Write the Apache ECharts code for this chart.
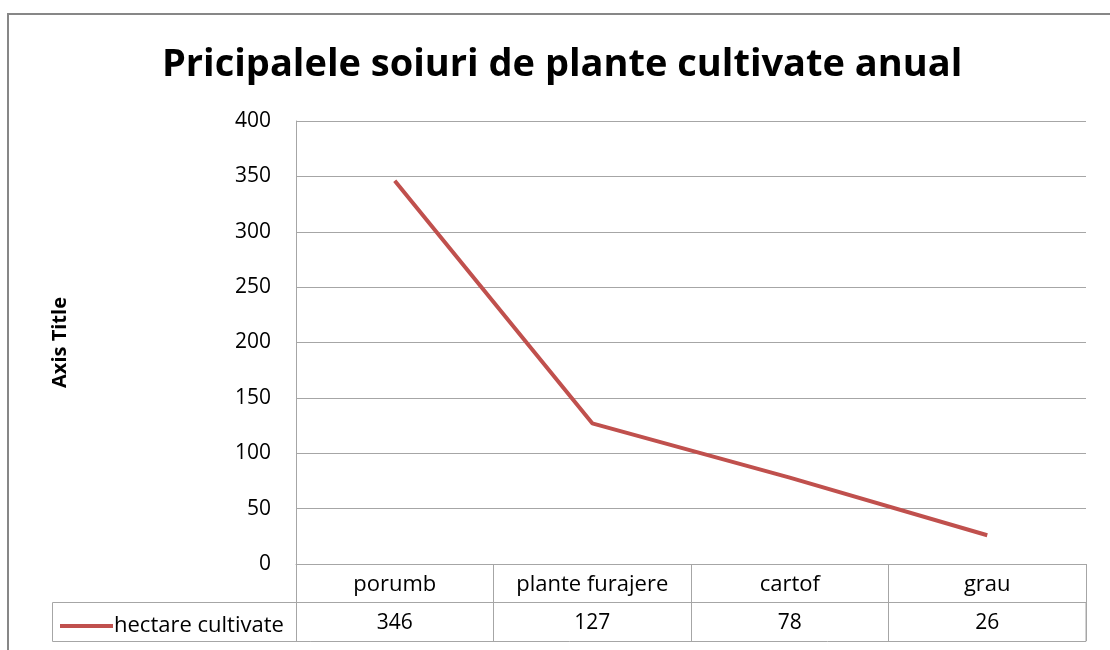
<!DOCTYPE html>
<html>
	<head>
		<meta charset="UTF-8">
		<title>Pricipalele soiuri de plante cultivate anual</title>
		<style>
			html, body { margin: 0; padding: 0; background: #fff; }
			#line-char { width: 1110px; height: 650px; }
		</style>
	</head>
	<body>
		<div id="line-char"></div>
		<script type="text/javascript" src="https://cdn.jsdelivr.net/npm/echarts@6/dist/echarts.min.js"></script>
		<script type="text/javascript">
	var titlu = 'Pricipalele soiuri de plante cultivate anual';
	var categorii = ['porumb', 'plante furajere', 'cartof', 'grau'];
	var numeSerie = 'hectare cultivate';
	var hectare = [346, 127, 78, 26];
	var yTicks = [0, 50, 100, 150, 200, 250, 300, 350, 400];

	var FONT = 'Open Sans';
	var GRI = '#a6a6a6';

	function plantChart(){
		var lineChar = echarts.init(document.getElementById('line-char'));
		var options = {
			color: ['#c0504d'],
			animation: false,
			title: {
				text: titlu,
				left: 157,
				top: 41,
				textStyle: { fontFamily: FONT, fontWeight: 'bold', fontSize: 38, color: '#000' }
			},
			legend: {
				data: [numeSerie],
				left: 55,
				top: 610,
				icon: 'rect',
				itemWidth: 53,
				itemHeight: 4,
				itemGap: 0,
				textStyle: { fontFamily: FONT, fontSize: 22, color: '#000', padding: [0, 0, 0, -4] }
			},
			grid: { left: 296, top: 121, right: 24, bottom: 86 },
			xAxis: [{
				type: 'category',
				data: categorii,
				boundaryGap: true,
				axisLine: { lineStyle: { color: GRI } },
				axisTick: { show: true, interval: 0, length: 77, lineStyle: { color: GRI } },
				axisLabel: { interval: 0, margin: 10, fontFamily: FONT, fontSize: 22, color: '#000' }
			}, {
				// randul cu valori din tabel
				type: 'category',
				position: 'bottom',
				offset: 38,
				data: hectare.map(String),
				boundaryGap: true,
				axisLine: { lineStyle: { color: GRI } },
				axisTick: { show: false },
				axisLabel: { interval: 0, margin: 11, fontFamily: FONT, fontSize: 21, color: '#000' }
			}],
			yAxis: {
				type: 'value',
				min: yTicks[0],
				max: yTicks[yTicks.length - 1],
				interval: yTicks[1] - yTicks[0],
				name: 'Axis Title',
				nameLocation: 'middle',
				nameRotate: 90,
				nameGap: 226,
				nameTextStyle: { fontFamily: FONT, fontWeight: 'bold', fontSize: 20, color: '#000' },
				axisLine: { show: true, lineStyle: { color: GRI } },
				axisTick: { show: false },
				axisLabel: { margin: 25, fontFamily: FONT, fontSize: 21, color: '#000' },
				splitLine: { lineStyle: { color: GRI } }
			},
			series: [{
				name: numeSerie,
				type: 'line',
				data: hectare,
				showSymbol: false,
				symbol: 'none',
				lineStyle: { width: 4, color: '#c0504d' }
			}]
		};
		lineChar.setOption(options);

		// chenarul graficului si linia din stanga a tabelului
		var rand1 = 602, rand2 = 641;
		var right = 1086;
		lineChar.setOption({
			graphic: [{
				type: 'rect',
				shape: { x: 8, y: 14, width: 1120, height: 660 },
				style: { fill: 'none', stroke: '#878787', lineWidth: 2 },
				silent: true
			}, {
				type: 'rect',
				shape: { x: 52.5, y: rand1 + 0.5, width: right - 52.5, height: rand2 - rand1 },
				style: { fill: 'none', stroke: GRI, lineWidth: 1 },
				silent: true
			}, {
				type: 'line',
				shape: { x1: 296.5, y1: rand1, x2: 296.5, y2: rand2 },
				style: { stroke: GRI, lineWidth: 1 },
				silent: true
			}]
		});
		window.addEventListener('resize', function(){
			lineChar.resize();
		});
	}
	plantChart();
		</script>
	</body>
</html>
